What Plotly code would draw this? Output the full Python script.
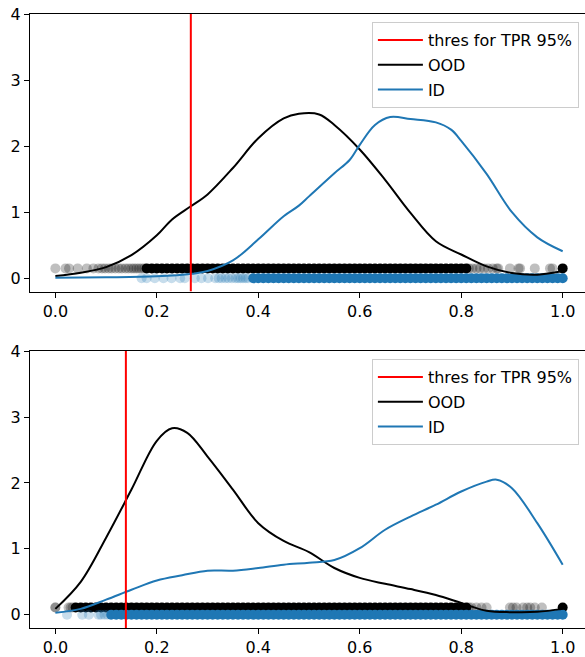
import plotly.graph_objects as go
from plotly.subplots import make_subplots

# KDE curves (x, density)
TOP_OOD_X = [0.0, 0.05, 0.1, 0.15, 0.2, 0.23, 0.267, 0.3, 0.35, 0.4, 0.45, 0.48,
             0.52, 0.55, 0.6, 0.65, 0.7, 0.75, 0.8, 0.85, 0.9, 0.95, 1.0]
TOP_OOD_Y = [0.035, 0.085, 0.17, 0.35, 0.65, 0.89, 1.09, 1.27, 1.67, 2.12, 2.42, 2.49,
             2.48, 2.32, 1.95, 1.49, 0.99, 0.56, 0.36, 0.18, 0.08, 0.055, 0.11]
TOP_ID_X = [0.0, 0.1, 0.2, 0.27, 0.3, 0.35, 0.4, 0.45, 0.48, 0.5, 0.55, 0.58, 0.6,
            0.63, 0.66, 0.7, 0.75, 0.78, 0.8, 0.85, 0.9, 0.95, 1.0]
TOP_ID_Y = [0.01, 0.015, 0.03, 0.07, 0.11, 0.27, 0.59, 0.94, 1.1, 1.24, 1.59, 1.79, 2.02,
            2.32, 2.44, 2.41, 2.36, 2.25, 2.08, 1.58, 1.0, 0.62, 0.41]
BOT_OOD_X = [0.0, 0.05, 0.1, 0.15, 0.2, 0.23, 0.26, 0.3, 0.35, 0.4, 0.45,
             0.5, 0.55, 0.6, 0.65, 0.7, 0.75, 0.8, 0.85, 0.9, 0.95, 1.0]
BOT_OOD_Y = [0.09, 0.5, 1.17, 1.9, 2.64, 2.83, 2.76, 2.4, 1.9, 1.39, 1.12,
             0.95, 0.71, 0.56, 0.47, 0.39, 0.3, 0.18, 0.06, 0.04, 0.045, 0.09]
BOT_ID_X = [0.0, 0.05, 0.1, 0.15, 0.2, 0.25, 0.3, 0.35, 0.4, 0.45, 0.5, 0.55, 0.6,
            0.65, 0.7, 0.75, 0.8, 0.85, 0.87, 0.9, 0.95, 1.0]
BOT_ID_Y = [0.03, 0.09, 0.23, 0.38, 0.52, 0.6, 0.67, 0.67, 0.71, 0.76, 0.79, 0.83, 1.01,
            1.29, 1.49, 1.67, 1.87, 2.02, 2.05, 1.92, 1.39, 0.76]

THRESHOLDS = [0.267, 0.139]
OOD_LEVEL = [0.15, 0.11]

# raw scores drawn as rugs: sparse tails (faint) and dense cores (solid)
TOP_OOD_TAIL = [0.0, 0.02, 0.027, 0.044, 0.062, 0.075, 0.085, 0.092, 0.098, 0.105,
                0.111, 0.118, 0.125, 0.131, 0.138, 0.144, 0.15, 0.155, 0.16, 0.165,
                0.17, 0.175, 0.815, 0.822, 0.83, 0.837, 0.845, 0.853, 0.862, 0.87,
                0.873, 0.896, 0.913, 0.916, 0.945, 0.975, 0.98]
TOP_OOD_CORE = [0.18, 0.19, 0.2, 0.21, 0.22, 0.23, 0.24, 0.25, 0.26, 0.27,
                0.28, 0.29, 0.3, 0.31, 0.32, 0.33, 0.34, 0.35, 0.36, 0.37,
                0.38, 0.39, 0.4, 0.41, 0.42, 0.43, 0.44, 0.45, 0.46, 0.47,
                0.48, 0.49, 0.5, 0.51, 0.52, 0.53, 0.54, 0.55, 0.56, 0.57,
                0.58, 0.59, 0.6, 0.61, 0.62, 0.63, 0.64, 0.65, 0.66, 0.67,
                0.68, 0.69, 0.7, 0.71, 0.72, 0.73, 0.74, 0.75, 0.76, 0.77,
                0.78, 0.79, 0.8, 0.81, 1.0]
TOP_ID_TAIL = [0.17, 0.18, 0.196, 0.213, 0.229, 0.246, 0.255, 0.275, 0.288, 0.301,
               0.315, 0.322, 0.328, 0.335, 0.341, 0.348, 0.355, 0.36, 0.365, 0.37,
               0.375, 0.38]
TOP_ID_CORE = [0.39, 0.4, 0.41, 0.42, 0.43, 0.44, 0.45, 0.46, 0.47, 0.48,
               0.49, 0.5, 0.51, 0.52, 0.53, 0.54, 0.55, 0.56, 0.57, 0.58,
               0.59, 0.6, 0.61, 0.62, 0.63, 0.64, 0.65, 0.66, 0.67, 0.68,
               0.69, 0.7, 0.71, 0.72, 0.73, 0.74, 0.75, 0.76, 0.77, 0.78,
               0.79, 0.8, 0.81, 0.82, 0.83, 0.84, 0.85, 0.86, 0.87, 0.88,
               0.89, 0.9, 0.91, 0.92, 0.93, 0.94, 0.95, 0.96, 0.97, 0.98,
               0.99, 1.0]
BOT_OOD_TAIL = [0.0, 0.0, 0.026, 0.03, 0.034, 0.815, 0.82, 0.83, 0.84, 0.85,
                0.896, 0.902, 0.909, 0.922, 0.93, 0.936, 0.945, 0.959]
BOT_OOD_CORE = [0.04, 0.05, 0.06, 0.07, 0.08, 0.09, 0.1, 0.11, 0.12, 0.13,
                0.14, 0.15, 0.16, 0.17, 0.18, 0.19, 0.2, 0.21, 0.22, 0.23,
                0.24, 0.25, 0.26, 0.27, 0.28, 0.29, 0.3, 0.31, 0.32, 0.33,
                0.34, 0.35, 0.36, 0.37, 0.38, 0.39, 0.4, 0.41, 0.42, 0.43,
                0.44, 0.45, 0.46, 0.47, 0.48, 0.49, 0.5, 0.51, 0.52, 0.53,
                0.54, 0.55, 0.56, 0.57, 0.58, 0.59, 0.6, 0.61, 0.62, 0.63,
                0.64, 0.65, 0.66, 0.67, 0.68, 0.69, 0.7, 0.71, 0.72, 0.73,
                0.74, 0.75, 0.76, 0.77, 0.78, 0.79, 0.8, 0.81, 1.0]
BOT_ID_TAIL = [0.023, 0.053, 0.066, 0.085, 0.09, 0.097, 0.103]
BOT_ID_CORE = [0.11, 0.12, 0.13, 0.14, 0.15, 0.16, 0.17, 0.18, 0.19, 0.2,
               0.21, 0.22, 0.23, 0.24, 0.25, 0.26, 0.27, 0.28, 0.29, 0.3,
               0.31, 0.32, 0.33, 0.34, 0.35, 0.36, 0.37, 0.38, 0.39, 0.4,
               0.41, 0.42, 0.43, 0.44, 0.45, 0.46, 0.47, 0.48, 0.49, 0.5,
               0.51, 0.52, 0.53, 0.54, 0.55, 0.56, 0.57, 0.58, 0.59, 0.6,
               0.61, 0.62, 0.63, 0.64, 0.65, 0.66, 0.67, 0.68, 0.69, 0.7,
               0.71, 0.72, 0.73, 0.74, 0.75, 0.76, 0.77, 0.78, 0.79, 0.8,
               0.81, 0.82, 0.83, 0.84, 0.85, 0.86, 0.87, 0.88, 0.89, 0.9,
               0.91, 0.92, 0.93, 0.94, 0.95, 0.96, 0.97, 0.98, 0.99, 1.0]

X_TICKS = [0.0, 0.2, 0.4, 0.6, 0.8, 1.0]
Y_TICKS = [0, 1, 2, 3, 4]

BLUE = "#1f77b4"
FONT = "DejaVu Sans"

panels = [
    dict(ood=(TOP_OOD_X, TOP_OOD_Y), idd=(TOP_ID_X, TOP_ID_Y),
         ood_rug=(TOP_OOD_TAIL, TOP_OOD_CORE), id_rug=(TOP_ID_TAIL, TOP_ID_CORE)),
    dict(ood=(BOT_OOD_X, BOT_OOD_Y), idd=(BOT_ID_X, BOT_ID_Y),
         ood_rug=(BOT_OOD_TAIL, BOT_OOD_CORE), id_rug=(BOT_ID_TAIL, BOT_ID_CORE)),
]

fig = make_subplots(rows=2, cols=1)

for i, p in enumerate(panels):
    row = i + 1
    leg = "legend" if i == 0 else "legend2"
    # rugs first so the curves sit on top
    for xs, color, level in [(p["ood_rug"], "black", OOD_LEVEL[i]), (p["id_rug"], BLUE, 0.0)]:
        tail, core = xs
        fig.add_trace(go.Scatter(x=tail, y=[level] * len(tail), mode="markers",
                                 marker=dict(size=10, color=color, opacity=0.25),
                                 showlegend=False, hoverinfo="skip"), row=row, col=1)
        fig.add_trace(go.Scatter(x=core, y=[level] * len(core), mode="markers",
                                 marker=dict(size=10, color=color, opacity=1.0),
                                 showlegend=False, hoverinfo="skip"), row=row, col=1)
    fig.add_trace(go.Scatter(x=p["ood"][0], y=p["ood"][1], mode="lines", name="OOD",
                             line=dict(color="black", width=2, shape="spline", smoothing=1.0),
                             legend=leg, legendrank=2, legendgroup=f"ood{i}"), row=row, col=1)
    fig.add_trace(go.Scatter(x=p["idd"][0], y=p["idd"][1], mode="lines", name="ID",
                             line=dict(color=BLUE, width=2, shape="spline", smoothing=1.0),
                             legend=leg, legendrank=3, legendgroup=f"id{i}"), row=row, col=1)
    fig.add_trace(go.Scatter(x=[THRESHOLDS[i], THRESHOLDS[i]], y=[-0.2, 4], mode="lines",
                             name="thres for TPR 95%", line=dict(color="red", width=2),
                             legend=leg, legendrank=1, legendgroup=f"thr{i}"), row=row, col=1)

axis_common = dict(showline=True, linecolor="black", linewidth=1, ticks="outside",
                   ticklen=5, tickwidth=1, tickcolor="black", showgrid=False,
                   zeroline=False, tickfont=dict(family=FONT, size=16, color="black"))

for r, dom in [(1, [0.548, 1.0]), (2, [0.0, 0.451])]:
    fig.update_xaxes(range=[-0.05, 1.044], tickvals=X_TICKS, tickformat=".1f",
                     mirror=True, row=r, col=1, **axis_common)
    fig.update_yaxes(range=[-0.2, 4], tickvals=Y_TICKS, domain=dom, row=r, col=1,
                     **axis_common)

legend_style = dict(bgcolor="rgba(255,255,255,0.8)", bordercolor="#cccccc", borderwidth=1,
                    font=dict(family=FONT, size=16, color="black"),
                    traceorder="grouped", tracegroupgap=1, itemwidth=45,
                    xanchor="right", yanchor="top", x=0.989)

fig.update_layout(
    width=585, height=657,
    margin=dict(l=30, r=0, t=14, b=29),
    paper_bgcolor="white", plot_bgcolor="white",
    font=dict(family=FONT, size=16, color="black"),
    legend=dict(y=0.987, **legend_style),
    legend2=dict(y=0.438, **legend_style),
)

fig.write_html("out.html", config={"displayModeBar": False},
               post_script="document.body.style.margin='0';document.body.style.overflow='hidden';")
